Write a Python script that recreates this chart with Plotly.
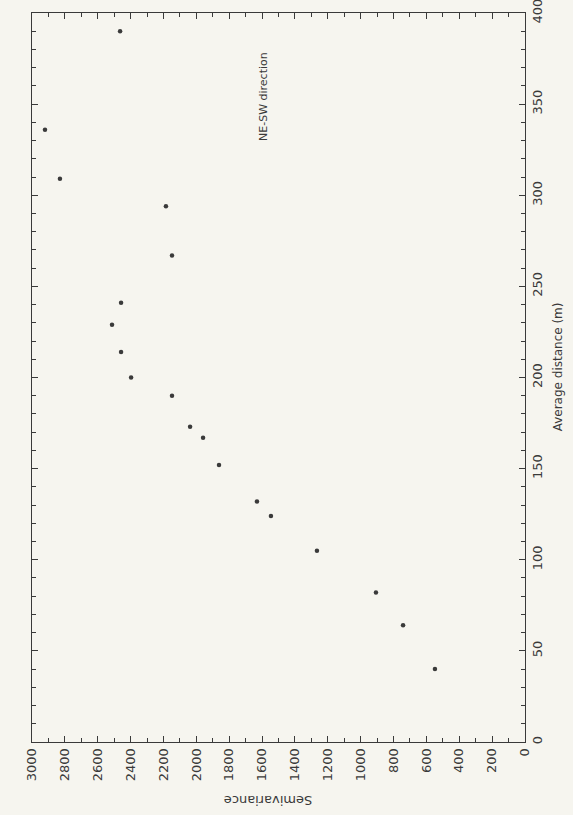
import plotly.graph_objects as go

# Data read from the (rotated) scanned figure
avg_distance = [40, 64, 82, 105, 124, 132, 152, 167, 173, 190, 200, 214, 229, 241, 267, 294, 309, 336, 390]
semivariance = [548, 742, 907, 1266, 1546, 1631, 1862, 1959, 2038, 2148, 2397, 2458, 2513, 2458, 2148, 2185, 2830, 2921, 2464]

sv_ticks = list(range(0, 3001, 200))
d_ticks = list(range(0, 401, 50))

ink = "#3a3a3a"
paper = "#f6f5ef"
font_family = "DejaVu Sans"

fig = go.Figure()
fig.add_trace(go.Scatter(
    x=semivariance, y=avg_distance, mode="markers",
    marker=dict(size=4.5, color=ink),
    showlegend=False, hoverinfo="skip",
))

fig.update_layout(
    width=573, height=815,
    margin=dict(l=32, r=48, t=13, b=73, autoexpand=False),
    paper_bgcolor=paper, plot_bgcolor=paper,
    font=dict(family=font_family, color=ink, size=12),
    showlegend=False,
)

fig.update_xaxes(
    range=[3000, 0], tickvals=sv_ticks, ticktext=[str(v) for v in sv_ticks],
    tickangle=-90, ticks="inside", ticklen=6, tickwidth=1, tickcolor=ink,
    minor=dict(dtick=100, ticks="inside", ticklen=4, tickwidth=1, tickcolor=ink),
    showline=True, linecolor=ink, linewidth=1, mirror="allticks",
    showgrid=False, zeroline=False, tickfont=dict(size=13, color=ink),
    ticklabeloverflow="allow", automargin=False,
)
fig.update_yaxes(
    range=[0, 400], side="right", tickvals=d_ticks, ticktext=[str(v) for v in d_ticks],
    tickangle=-90, ticks="inside", ticklen=6, tickwidth=1, tickcolor=ink,
    minor=dict(dtick=10, ticks="inside", ticklen=4, tickwidth=1, tickcolor=ink),
    showline=True, linecolor=ink, linewidth=1, mirror="allticks",
    showgrid=False, zeroline=False, tickfont=dict(size=13, color=ink),
    ticklabeloverflow="allow", automargin=False,
)

fig.add_annotation(text="Semivariance", xref="paper", yref="paper",
                   x=0.479, y=-0.08, textangle=180, showarrow=False,
                   xanchor="center", yanchor="middle",
                   font=dict(size=13, color=ink))
fig.add_annotation(text="Average distance (m)", xref="paper", yref="paper",
                   x=1.067, y=0.514, textangle=-90, showarrow=False,
                   xanchor="center", yanchor="middle",
                   font=dict(size=12, color=ink))
fig.add_annotation(text="NE-SW direction", xref="paper", yref="paper",
                   x=(263 - 32) / 493, y=(742 - 97) / 729, textangle=-90, showarrow=False,
                   xanchor="center", yanchor="middle",
                   font=dict(size=11, color=ink))

fig.write_html("out.html")
